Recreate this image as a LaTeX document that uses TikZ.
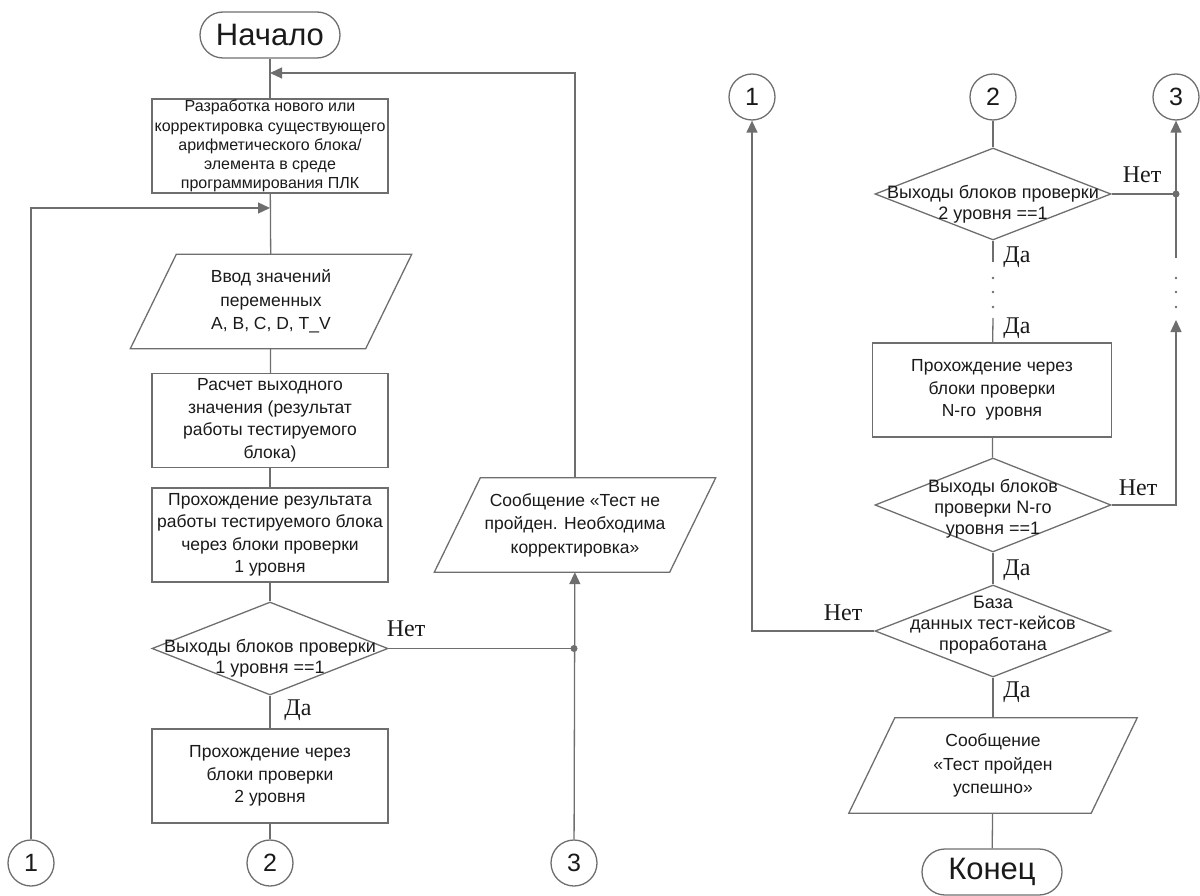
\documentclass[tikz,border=0pt]{standalone}
\usepackage{fontspec}
\setmainfont{Liberation Sans}
\newfontfamily\lblfont{Liberation Serif}
\usetikzlibrary{arrows.meta,shapes.geometric}
\definecolor{Line}{HTML}{6E6E6E}
\definecolor{Ink}{HTML}{1A1A1A}

\begin{document}
\begin{tikzpicture}[x=1pt,y=-1pt,
    ln/.style={draw=Line,line width=1.3pt},
    arr/.style={ln,-{Triangle[length=12pt,width=11pt]}},
    term/.style={ln,rounded corners=23pt,minimum width=140pt,minimum height=46pt,
                 inner sep=0pt,text=Ink,font=\fontsize{31}{33}\selectfont},
    block/.style={ln,minimum width=236pt,minimum height=94pt,inner sep=1pt,
                  align=center,text=Ink,font=\fontsize{17.5}{22.5}\selectfont},
    io/.style={minimum width=235pt,minimum height=94pt,inner sep=1pt,
               align=center,text=Ink,font=\fontsize{17.5}{23.5}\selectfont},
    cond/.style={ln,diamond,minimum width=236pt,minimum height=93pt,inner sep=0pt},
    condtext/.style={align=center,text=Ink,font=\fontsize{18}{21}\selectfont},
    conn/.style={ln,circle,minimum size=46pt,inner sep=0pt,text=Ink,
                 font=\fontsize{25}{25}\selectfont},
    lbl/.style={text=Ink,font=\lblfont\fontsize{24}{24}\selectfont}]
  \useasboundingbox (0,0) rectangle (1200,896);

  % left column
  \node[term] (start) at (270,35) {Начало};
  \node[block,font=\fontsize{16}{19.2}\selectfont] (b1) at (270,146)
    {Разработка нового или\\корректировка существующего\\арифметического блока/\\элемента в среде\\программирования ПЛК};
  \node[io] (inp) at (271,301.5) {Ввод значений\\переменных\\A, B, C, D, T\_V};
  \node[block] (calc) at (270,420.5)
    {Расчет выходного\\значения (результат\\работы тестируемого\\блока)};
  \node[block] (pass1) at (270,535)
    {Прохождение результата\\работы тестируемого блока\\через блоки проверки\\1 уровня};
  \node[cond] (d1) at (270,648.5) {};
  \node[condtext] (d1t) at (270,658) {Выходы блоков проверки\\1 уровня ==1};
  \node[block] (b2) at (270,776) {Прохождение через\\блоки проверки\\2 уровня};
  \node[conn] (c1l) at (31,863) {1};
  \node[conn] (c2l) at (270,863) {2};
  \node[conn] (c3l) at (574,863) {3};
  \node[io] (err) at (575,525) {Сообщение «Тест не\\пройден. Необходима\\корректировка»};

  \coordinate (j1) at (270,73);
  \coordinate (j2) at (270,208);
  \coordinate (p1) at (574,648.5);

  % right column
  \node[conn] (c1r) at (752,97) {1};
  \node[conn] (c2r) at (993,97) {2};
  \node[conn] (c3r) at (1176,97) {3};
  \node[cond,minimum height=92pt] (d2) at (993,194) {};
  \node[condtext] (d2t) at (993,204) {Выходы блоков проверки\\2 уровня ==1};
  \node[block,minimum width=239pt] (bN) at (992,390)
    {Прохождение через\\блоки проверки\\N-го~ уровня};
  \node[cond,minimum height=94pt] (d3) at (993,505) {};
  \node[condtext] (d3t) at (993,509) {Выходы блоков\\проверки N-го\\уровня ==1};
  \node[cond,minimum height=92pt] (d4) at (993,631) {};
  \node[condtext] (d4t) at (993,625) {База\\данных тест-кейсов\\проработана};
  \node[io,minimum width=242pt,minimum height=95pt] (ok) at (993,765.5)
    {Сообщение\\«Тест пройден\\успешно»};
  \node[term] (end) at (992,872) {Конец};

  \coordinate (p2) at (1176,194);
  \coordinate (q1) at (1176,258);
  \coordinate (q2) at (1176,320);
  \coordinate (m1) at (993,262);
  \coordinate (m2) at (993,318);

  % parallelograms
  \foreach \n in {inp,err,ok}
    \draw[ln] ([xshift=23pt]\n.north west) -- ([xshift=23pt]\n.north east)
      -- ([xshift=-23pt]\n.south east) -- ([xshift=-23pt]\n.south west) -- cycle;

  % connectors, left
  \draw[ln] (start) -- (b1);
  \draw[arr] (err) |- (j1);
  \draw[arr] (c1l) |- (j2);
  \draw[ln] (b1) -- (inp);
  \draw[ln] (inp) -- (calc);
  \draw[ln] (calc) -- (pass1);
  \draw[ln] (pass1) -- (d1);
  \draw[ln] (d1) -- (b2);
  \draw[ln] (b2) -- (c2l);
  \draw[ln] (d1) -- (p1);
  \draw[arr] (c3l) -- (err);
  \fill[Line] (p1) circle (3.5pt);
  \node[lbl] at (406,629) {Нет};
  \node[lbl] at (298,710) {Да};

  % connectors, right
  \draw[ln] (c2r) -- (d2);
  \draw[ln] (d2) -- (p2);
  \draw[arr] (q1) -- (c3r);
  \fill[Line] (p2) circle (3.5pt);
  \draw[ln] (d2) -- (m1);
  \draw[ln] (m2) -- (bN);
  \foreach \y in {278,292,307} {
    \fill[Line] (993,\y) circle (1.4pt);
    \fill[Line] (1176,\y) circle (1.4pt);
  }
  \draw[ln] (bN) -- (d3);
  \draw[arr] (d3) -| (q2);
  \draw[ln] (d3) -- (d4);
  \draw[arr] (d4) -| (c1r);
  \draw[ln] (d4) -- (ok);
  \draw[ln] (ok) -- (end);
  \node[lbl] at (1142,175) {Нет};
  \node[lbl] at (1138,488) {Нет};
  \node[lbl] at (843,613) {Нет};
  \node[lbl] at (1017,257) {Да};
  \node[lbl] at (1017,328) {Да};
  \node[lbl] at (1017,570) {Да};
  \node[lbl] at (1017,692) {Да};
\end{tikzpicture}
\end{document}
